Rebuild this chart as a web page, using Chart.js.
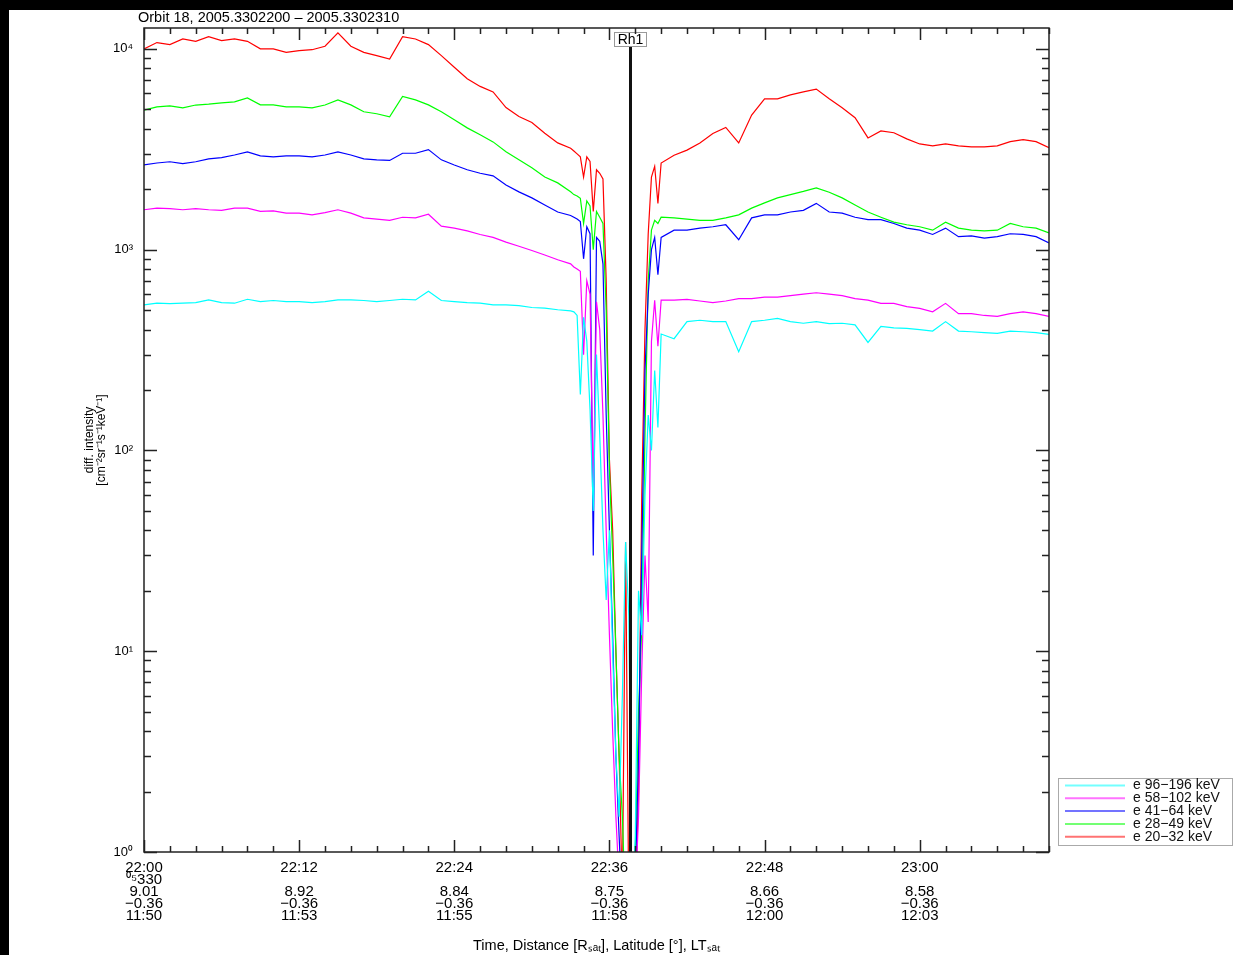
<!DOCTYPE html>
<html>
<head>
<meta charset="utf-8">
<title>Orbit 18 electron intensities</title>
<script src="https://cdn.jsdelivr.net/npm/chart.js@4.4.1/dist/chart.umd.min.js"></script>
<style>
  html, body { margin: 0; padding: 0; background: #000; }
  body { width: 1233px; height: 955px; position: relative; overflow: hidden; }
  #wrap { position: absolute; left: 9px; top: 10px; width: 1224px; height: 945px; background: #fff; }
</style>
</head>
<body>
<div id="wrap"><canvas id="chart" width="1224" height="945"></canvas></div>
<script>
// minutes after 22:00 (denser sampling around the Rh1 dropout)
const minutes = [0,1,2,3,4,5,6,7,8,9,10,11,12,13,14,15,16,17,18,19,20,21,22,23,24,25,26,27,28,29,30,31,32,
  33,33.25,33.5,33.75,34,34.25,34.5,34.75,35,35.25,35.5,35.75,36,36.25,36.5,36.75,37,37.25,37.5,37.75,38,38.25,38.5,38.75,39,39.25,39.5,39.75,40,
  41,42,43,44,45,46,47,48,49,50,51,52,53,54,55,56,57,58,59,60,61,62,63,64,65,66,67,68,69,70];

// diff. intensity per channel
const e96 = [531,541,538,541,545,562,545,541,566,551,558,551,551,545,551,562,562,558,551,558,566,562,620,558,551,545,541,531,531,526,515,511,502,
  495,490,470,190,460,350,160,50,300,120,40,18,40,10,3,1.5,6,35,15,0.5,1.2,20,12,60,150,100,250,130,380,
  360,438,445,438,438,310,438,445,455,438,430,438,428,430,422,345,415,408,405,400,393,438,393,390,386,383,393,390,386,378];
const e58 = [1580,1610,1600,1580,1600,1580,1570,1610,1610,1550,1560,1520,1520,1490,1530,1580,1520,1440,1420,1400,1450,1440,1500,1310,1280,1240,1190,1150,1090,1040,990,940,890,
  850,820,800,780,300,700,600,60,550,400,150,40,12,4,1.5,0.7,0.5,0.5,0.5,0.5,0.6,1.5,8,30,14,350,560,330,560,
  560,565,555,545,555,570,570,580,580,590,600,610,600,590,570,560,540,540,520,510,490,540,480,480,470,465,480,490,480,465];
const e41 = [2640,2700,2740,2680,2740,2830,2870,2960,3070,2930,2900,2930,2930,2900,2960,3070,2960,2830,2800,2780,3020,3020,3150,2800,2640,2500,2400,2330,2100,1940,1810,1670,1540,
  1480,1450,1420,1380,900,1300,1200,30,1150,1100,850,150,40,12,3,1.2,0.5,0.5,0.5,0.5,0.7,3,30,250,600,1000,1150,750,1150,
  1250,1250,1280,1300,1330,1120,1440,1490,1490,1540,1570,1700,1540,1520,1450,1410,1410,1350,1280,1250,1190,1280,1160,1170,1140,1160,1200,1190,1160,1080];
const e28 = [4950,5140,5200,5080,5250,5300,5380,5440,5700,5260,5260,5140,5140,5080,5250,5570,5260,4860,4750,4580,5800,5570,5260,4860,4430,4040,3730,3440,3070,2800,2560,2300,2150,
  1940,1880,1850,1800,1350,1750,1650,1000,1550,1450,1350,500,80,30,10,3,1.5,0.5,0.5,0.5,1,5,13,120,700,1250,1400,1350,1450,
  1440,1420,1400,1400,1440,1490,1610,1710,1810,1880,1950,2030,1930,1810,1670,1540,1450,1370,1330,1300,1250,1370,1280,1250,1240,1250,1350,1300,1280,1210];
const e20 = [10000,10750,10500,11200,10900,11500,11000,11200,10900,10000,10000,9600,9800,9900,10300,12000,10300,9600,9250,8900,11500,11200,10500,9250,8100,7100,6500,6100,5100,4600,4300,3800,3400,
  3200,3100,3000,2900,2300,2900,2750,1550,2500,2400,2250,700,90,40,10,3,0.6,35,0.5,0.5,0.5,2,60,400,1200,2300,2600,1700,2700,
  2950,3130,3400,3790,4060,3400,4680,5640,5640,5900,6100,6300,5640,5090,4540,3600,3900,3820,3560,3360,3290,3360,3290,3250,3250,3290,3450,3530,3450,3220];

const seriesLabels = ['e 96\u2212196 keV', 'e 58\u2212102 keV', 'e 41\u221264 keV', 'e 28\u221249 keV', 'e 20\u221232 keV'];
const seriesColors = ['#00ffff', '#ff00ff', '#0000ff', '#00ff00', '#ff0000'];
const seriesValues = [e96, e58, e41, e28, e20];

// axis ticks and labels
const xTicks = [0, 12, 24, 36, 48, 60];
const timeLabels = ['22:00', '22:12', '22:24', '22:36', '22:48', '23:00'];
const doyLabels = ['\u2070\u2075330', '', '', '', '', ''];
const distLabels = ['9.01', '8.92', '8.84', '8.75', '8.66', '8.58'];
const latLabels = ['\u22120.36', '\u22120.36', '\u22120.36', '\u22120.36', '\u22120.36', '\u22120.36'];
const ltLabels = ['11:50', '11:53', '11:55', '11:58', '12:00', '12:03'];
const yTicks = [1, 10, 100, 1000, 10000];
const yTickLabels = ['10\u2070', '10\u00b9', '10\u00b2', '10\u00b3', '10\u2074'];

const plotTitle = 'Orbit 18, 2005.3302200 \u2013 2005.3302310';
const rh1Minute = 37.6;
const rh1Label = 'Rh1';

Chart.defaults.font.family = '"Liberation Sans", Arial, sans-serif';
Chart.defaults.color = '#000';

const decorations = {
  id: 'decorations',
  afterDatasetsDraw(chart) {
    const { ctx, chartArea: a, scales: { x } } = chart;
    const px = Math.round(x.getPixelForValue(rh1Minute)) + 0.5;
    ctx.save();
    ctx.strokeStyle = '#111';
    ctx.lineWidth = 3;
    ctx.beginPath();
    ctx.moveTo(px, a.top + 18);
    ctx.lineTo(px, a.bottom);
    ctx.stroke();
    ctx.fillStyle = '#fff';
    ctx.fillRect(px - 16, a.top + 4, 32, 14);
    ctx.strokeStyle = '#999';
    ctx.lineWidth = 1;
    ctx.strokeRect(px - 16, a.top + 4.5, 32, 14);
    ctx.fillStyle = '#000';
    ctx.font = '14px "Liberation Sans", Arial, sans-serif';
    ctx.textAlign = 'center';
    ctx.textBaseline = 'middle';
    ctx.fillText(rh1Label, px, a.top + 12);
    ctx.restore();
  },
  afterDraw(chart) {
    const { ctx, chartArea: a, scales: { x, y } } = chart;
    ctx.save();
    ctx.strokeStyle = '#222';
    ctx.lineWidth = 1.5;
    ctx.strokeRect(a.left, a.top, a.right - a.left, a.bottom - a.top);

    // inward ticks, IDL style
    ctx.beginPath();
    for (let m = 0; m <= 70; m += 2) {
      const p = Math.round(x.getPixelForValue(m)) + 0.5;
      const len = m % 12 === 0 ? 12 : 6;
      ctx.moveTo(p, a.bottom); ctx.lineTo(p, a.bottom - len);
      ctx.moveTo(p, a.top); ctx.lineTo(p, a.top + len);
    }
    for (let d = 1; d <= 10000; d *= 10) {
      for (let k = 1; k <= 9; k++) {
        const v = k * d;
        if (v > y.max) break;
        const p = Math.round(y.getPixelForValue(v)) + 0.5;
        const len = k === 1 ? 13 : 7;
        ctx.moveTo(a.left, p); ctx.lineTo(a.left + len, p);
        ctx.moveTo(a.right, p); ctx.lineTo(a.right - len, p);
      }
    }
    ctx.stroke();

    // title
    ctx.fillStyle = '#000';
    ctx.font = '14.5px "Liberation Sans", Arial, sans-serif';
    ctx.textAlign = 'left';
    ctx.textBaseline = 'middle';
    ctx.fillText(plotTitle, a.left - 6, 8);

    // legend box
    const lx = a.right + 9, ly = 768, lw = 174, lh = 67;
    ctx.strokeStyle = '#aaa';
    ctx.lineWidth = 1;
    ctx.strokeRect(lx + 0.5, ly + 0.5, lw, lh);
    ctx.font = '14px "Liberation Sans", Arial, sans-serif';
    chart.data.datasets.forEach((ds, i) => {
      const yy = ly + 7.5 + i * 12.8;
      ctx.globalAlpha = 0.55;
      ctx.strokeStyle = ds.borderColor;
      ctx.lineWidth = 2;
      ctx.beginPath();
      ctx.moveTo(lx + 7, yy);
      ctx.lineTo(lx + 67, yy);
      ctx.stroke();
      ctx.globalAlpha = 1;
      ctx.fillStyle = '#111';
      ctx.fillText(ds.label, lx + 75, yy);
    });
    ctx.restore();
  }
};

new Chart(document.getElementById('chart'), {
  type: 'line',
  data: {
    datasets: seriesValues.map((vals, i) => ({
      label: seriesLabels[i],
      data: minutes.map((m, j) => ({ x: m, y: vals[j] })),
      borderColor: seriesColors[i],
      borderWidth: 1.2,
      pointRadius: 0,
      tension: 0,
      fill: false
    }))
  },
  options: {
    responsive: false,
    animation: false,
    events: [],
    layout: { padding: { left: 70, top: 18, right: 184, bottom: 0 } },
    plugins: {
      legend: { display: false },
      tooltip: { enabled: false }
    },
    scales: {
      x: {
        type: 'linear',
        min: 0,
        max: 70,
        grid: { display: false },
        border: { display: false },
        afterBuildTicks: scale => { scale.ticks = xTicks.map(v => ({ value: v })); },
        afterFit: scale => { scale.height = 103; },
        ticks: {
          autoSkip: false,
          maxRotation: 0,
          minRotation: 0,
          padding: 2,
          font: { size: 15, lineHeight: '12px' },
          callback: (value, index) => [timeLabels[index], doyLabels[index], distLabels[index], latLabels[index], ltLabels[index]]
        },
        title: {
          display: true,
          text: 'Time, Distance [R\u209b\u2090\u209c], Latitude [\u00b0], LT\u209b\u2090\u209c',
          font: { size: 14.5 },
          padding: { top: 0, bottom: 0 }
        }
      },
      y: {
        type: 'logarithmic',
        min: 1,
        max: 12700,
        grid: { display: false },
        border: { display: false },
        afterBuildTicks: scale => { scale.ticks = yTicks.map(v => ({ value: v })); },
        afterFit: scale => { scale.width = 65; },
        ticks: {
          padding: 3,
          font: { size: 13 },
          callback: (value, index) => yTickLabels[index]
        },
        title: {
          display: true,
          text: ['diff. intensity', '[cm\u207b\u00b2sr\u207b\u00b9s\u207b\u00b9keV\u207b\u00b9]'],
          font: { size: 12, lineHeight: 1 },
          padding: { top: 5, bottom: 0 }
        }
      }
    }
  },
  plugins: [decorations]
});
</script>
</body>
</html>
